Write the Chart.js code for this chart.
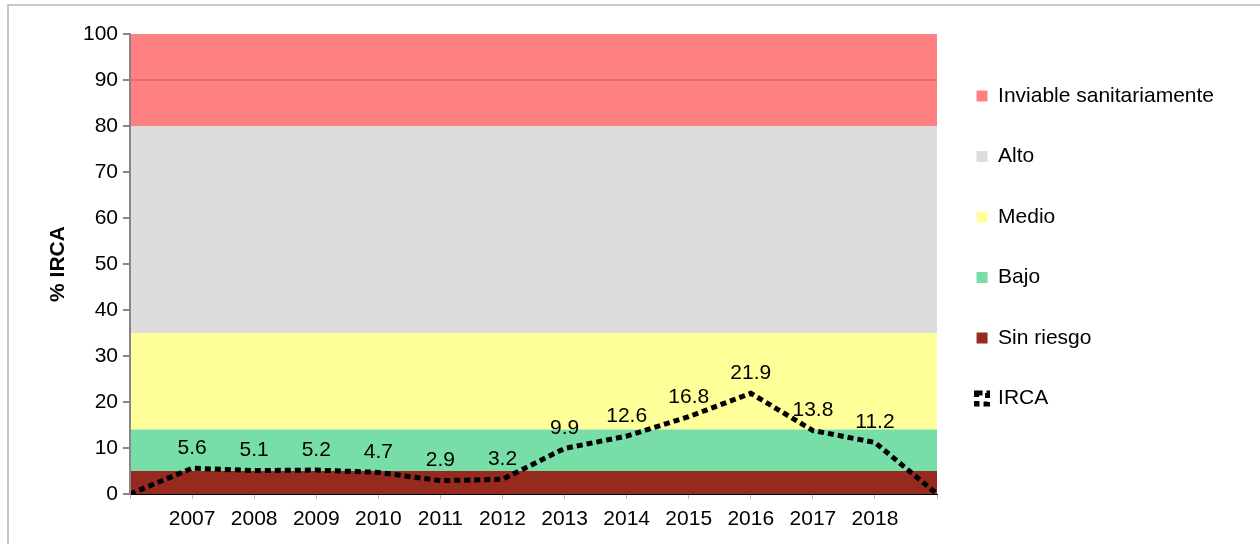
<!DOCTYPE html>
<html>
<head>
<meta charset="utf-8">
<script src="https://cdn.jsdelivr.net/npm/chart.js@4.4.1/dist/chart.umd.min.js"></script>
<style>
  html, body { margin: 0; padding: 0; background: #fff; }
  #frame {
    position: absolute; left: 7px; top: 4px; width: 1260px; height: 560px;
    border-left: 2px solid #c8c8c8; border-top: 2px solid #c8c8c8;
  }
  #wrap { position: absolute; left: 0; top: 0; width: 1260px; height: 544px; }
</style>
</head>
<body>
<div id="frame"></div>
<div id="wrap"><canvas id="ircaChart" width="1260" height="544"></canvas></div>
<script>
// categorias (los extremos vacios son los puntos de 0 en los bordes)
const years = ['', '2007', '2008', '2009', '2010', '2011', '2012', '2013', '2014', '2015', '2016', '2017', '2018', ''];

// IRCA por año
const irca = [0, 5.6, 5.1, 5.2, 4.7, 2.9, 3.2, 9.9, 12.6, 16.8, 21.9, 13.8, 11.2, 0];

// bandas de riesgo (espesor de cada franja, apiladas)
const sinRiesgo = [5, 5, 5, 5, 5, 5, 5, 5, 5, 5, 5, 5, 5, 5];
const bajo      = [9, 9, 9, 9, 9, 9, 9, 9, 9, 9, 9, 9, 9, 9];
const medio     = [21, 21, 21, 21, 21, 21, 21, 21, 21, 21, 21, 21, 21, 21];
const alto      = [45, 45, 45, 45, 45, 45, 45, 45, 45, 45, 45, 45, 45, 45];
const inviable  = [20, 20, 20, 20, 20, 20, 20, 20, 20, 20, 20, 20, 20, 20];

const yTicks = [0, 10, 20, 30, 40, 50, 60, 70, 80, 90, 100];

const FONT = "'Liberation Sans', Arial, sans-serif";
const FS = 21;

function band(label, data, color, fill) {
    return {
        label: label,
        data: data,
        backgroundColor: color,
        borderColor: color,
        borderWidth: 0,
        pointRadius: 0,
        fill: fill,
        stack: 'bands',
        tension: 0
    };
}

// etiquetas de valores encima de la linea IRCA
const valueLabels = {
    id: 'valueLabels',
    afterDatasetsDraw(chart) {
        const meta = chart.getDatasetMeta(0);
        const c = chart.ctx;
        c.save();
        c.font = FS + 'px ' + FONT;
        c.fillStyle = '#000';
        c.textAlign = 'center';
        c.textBaseline = 'middle';
        meta.data.forEach((pt, i) => {
            if (years[i] === '') return;
            c.fillText(String(irca[i]), pt.x, pt.y - 20);
        });
        c.restore();
    }
};

const ctx = document.getElementById('ircaChart').getContext('2d');
const chart = new Chart(ctx, {
    type: 'line',
    data: {
        labels: years,
        datasets: [
            {
                label: 'IRCA',
                data: irca,
                borderColor: '#000',
                backgroundColor: 'rgba(0,0,0,0)',
                borderWidth: 5,
                borderDash: [6, 4],
                borderCapStyle: 'butt',
                pointRadius: 0,
                fill: false,
                stack: 'irca',
                tension: 0
            },
            band('Sin riesgo', sinRiesgo, '#962A1F', 'origin'),
            band('Bajo', bajo, '#78DEA8', '-1'),
            band('Medio', medio, '#FFFF99', '-1'),
            band('Alto', alto, '#DDDDDD', '-1'),
            band('Inviable sanitariamente', inviable, '#FF8080', '-1')
        ]
    },
    options: {
        responsive: false,
        animation: false,
        devicePixelRatio: 1,
        layout: { padding: { top: 34, right: 36, left: 0, bottom: 0 } },
        plugins: {
            tooltip: { enabled: false },
            legend: {
                position: 'right',
                align: 'start',
                reverse: true,
                title: { display: true, text: ' ', font: { size: 10, lineHeight: 1 }, padding: { top: 1, bottom: 1 } },
                labels: {
                    boxWidth: 11,
                    boxHeight: 11,
                    padding: 39.5,
                    color: '#000',
                    font: { family: FONT, size: FS, lineHeight: 1 }
                }
            }
        },
        scales: {
            x: {
                grid: { drawOnChartArea: false, drawTicks: true, tickLength: 5, tickColor: '#bbbbbb' },
                border: { display: true, color: '#000', width: 1, dash: [4, 3], z: 1 },
                ticks: { color: '#000', font: { family: FONT, size: FS }, padding: 8, maxRotation: 0, autoSkip: false },
                afterFit: s => { s.height = 50; }
            },
            y: {
                stacked: true,
                min: 0,
                max: 100,
                afterBuildTicks: s => { s.ticks = yTicks.map(v => ({ value: v })); },
                grid: {
                    z: 1,
                    drawTicks: true,
                    tickLength: 7,
                    tickColor: '#868686',
                    color: c => (c.tick && c.tick.value === 90) ? 'rgba(160,70,70,0.3)' : 'rgba(0,0,0,0)',
                    lineWidth: 2
                },
                border: { display: true, color: '#868686', width: 2, z: 1 },
                ticks: { color: '#000', font: { family: FONT, size: FS }, padding: 5 },
                title: {
                    display: true,
                    text: '% IRCA',
                    color: '#000',
                    font: { family: FONT, size: FS, weight: 'bold' },
                    padding: { top: 46, bottom: 0 }
                },
                afterFit: s => { s.width = 130; }
            }
        }
    },
    plugins: [valueLabels]
});
</script>
</body>
</html>
